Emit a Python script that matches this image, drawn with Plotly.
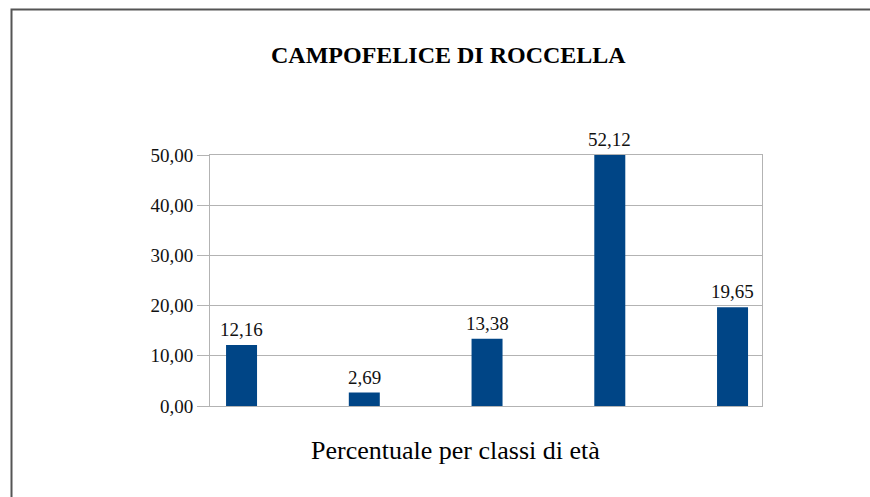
import plotly.graph_objects as go

categories = ["Classe 1", "Classe 2", "Classe 3", "Classe 4", "Classe 5"]
values = [12.16, 2.69, 13.38, 52.12, 19.65]
y_ticks = [0, 10, 20, 30, 40, 50]
title_text = "CAMPOFELICE DI ROCCELLA"
x_title = "Percentuale per classi di età"

Y_MAX = 50
BAR_COLOR = "#004586"
FONT = "Liberation Serif"

fig = go.Figure()
fig.add_trace(go.Bar(
    x=categories, y=values, width=0.2525,
    marker=dict(color=BAR_COLOR, line=dict(width=0)),
    hoverinfo="skip",
))

L, R, T, B = 210, 108, 155, 91
W, H = 870, 497
pw, ph = W - L - R, H - T - B

def px_x(p):
    return (p - L) / pw

def px_y(p):
    return (H - B - p) / ph

annotations = []
for c, v in zip(categories, values):
    annotations.append(dict(
        x=c, y=min(v, Y_MAX), xref="x", yref="y",
        text=f"{v:.2f}".replace(".", ","), showarrow=False,
        yanchor="bottom", yshift=3,
        font=dict(family=FONT, size=19, color="#111111"),
    ))
annotations.append(dict(
    x=px_x(448.5), y=px_y(55), xref="paper", yref="paper",
    text=f"<b>{title_text}</b>", showarrow=False,
    xanchor="center", yanchor="middle",
    font=dict(family=FONT, size=24, color="#000000"),
))
annotations.append(dict(
    x=px_x(455), y=px_y(450), xref="paper", yref="paper",
    text=x_title, showarrow=False,
    xanchor="center", yanchor="middle",
    font=dict(family=FONT, size=26, color="#000000"),
))

fig.update_layout(
    width=W, height=H,
    margin=dict(l=L, r=R, t=T, b=B, pad=0),
    paper_bgcolor="white", plot_bgcolor="white",
    separators=",.",
    showlegend=False,
    annotations=annotations,
    shapes=[dict(
        type="rect", xref="paper", yref="paper",
        x0=px_x(11.5), x1=px_x(880), y0=px_y(510), y1=px_y(9.5),
        line=dict(color="#555555", width=2), fillcolor="rgba(0,0,0,0)",
        layer="below",
    )],
)
fig.update_xaxes(
    type="category", range=[-0.257, 4.240],
    showticklabels=False, ticks="", showgrid=False,
    showline=True, linecolor="#b3b3b3", linewidth=1, mirror=True,
    zeroline=False,
)
fig.update_yaxes(
    range=[0, Y_MAX], tickvals=y_ticks, tickformat=".2f",
    ticks="outside", ticklen=12, tickcolor="#b3b3b3", tickwidth=1,
    showgrid=True, gridcolor="#b3b3b3", gridwidth=1,
    showline=True, linecolor="#b3b3b3", linewidth=1, mirror=True,
    zeroline=False,
    tickfont=dict(family=FONT, size=19, color="#111111"),
)

fig.write_html(
    "out.html",
    config={"displayModeBar": False, "staticPlot": True},
    post_script="document.body.style.margin='0';document.body.style.overflow='hidden';",
)
